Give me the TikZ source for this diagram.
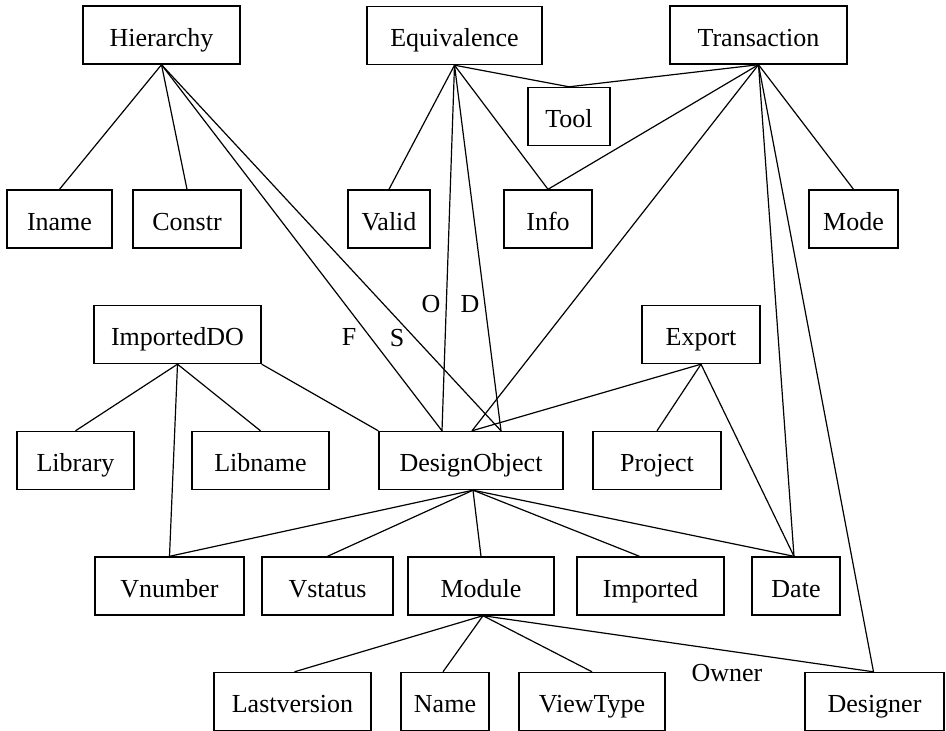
\documentclass[tikz,border=0pt]{standalone}
\usepackage{fontspec}
\setmainfont{Liberation Serif}
\begin{document}
\begin{tikzpicture}[x=1pt,y=-1pt,
  every node/.style={font=\fontsize{26}{29}\selectfont},
  ent/.style={draw, line width=1.4pt, inner sep=0pt, minimum height=58pt,
              text height=26pt, text depth=4pt},
  lbl/.style={inner sep=0pt},
  link/.style={line width=1.2pt}]
\useasboundingbox (0,0) rectangle (946,731);

% entity boxes
\node[ent, minimum width=157pt] (hier)   at (161.5,35)   {Hierarchy};
\node[ent, minimum width=175pt] (equiv)  at (454.5,35.5) {Equivalence};
\node[ent, minimum width=177pt] (trans)  at (758.5,35)   {Transaction};
\node[ent, minimum width=82pt]  (tool)   at (569,116.5)  {Tool};
\node[ent, minimum width=105pt] (iname)  at (59.5,219)   {Iname};
\node[ent, minimum width=108pt] (constr) at (187,219)    {Constr};
\node[ent, minimum width=82pt]  (valid)  at (389,219)    {Valid};
\node[ent, minimum width=88pt]  (info)   at (548,219)    {Info};
\node[ent, minimum width=89pt]  (mode)   at (853.5,219)  {Mode};
\node[ent, minimum width=167pt] (impdo)  at (177.5,334.5) {ImportedDO};
\node[ent, minimum width=118pt] (export) at (701,334.5)  {Export};
\node[ent, minimum width=117pt] (library) at (75.5,460.5) {Library};
\node[ent, minimum width=137pt] (libname) at (260.5,460.5) {Libname};
\node[ent, minimum width=184pt] (dobj)   at (471,460.5)  {DesignObject};
\node[ent, minimum width=128pt] (project) at (657,460.5) {Project};
\node[ent, minimum width=149pt] (vnumber) at (169.5,586) {Vnumber};
\node[ent, minimum width=131pt] (vstatus) at (327.5,586) {Vstatus};
\node[ent, minimum width=146pt] (module) at (481,586)    {Module};
\node[ent, minimum width=147pt] (imported) at (650.5,586) {Imported};
\node[ent, minimum width=88pt]  (date)   at (796,586)    {Date};
\node[ent, minimum width=157pt] (lastv)  at (292.5,701.5) {Lastversion};
\node[ent, minimum width=88pt]  (name)   at (445,701.5)  {Name};
\node[ent, minimum width=146pt] (viewtype) at (592,701.5) {ViewType};
\node[ent, minimum width=139pt] (designer) at (874.5,701.5) {Designer};

% role labels
\node[lbl] (lf) at (349,337) {F};
\node[lbl] (ls) at (397,338) {S};
\node[lbl] (lo) at (431,304) {O};
\node[lbl] (ld) at (470,304) {D};
\node[lbl] (lowner) at (727,673) {Owner};

% Hierarchy
\draw[link] (hier.south) -- (iname.north);
\draw[link] (hier.south) -- (constr.north);
\draw[link] (hier.south) -- ([xshift=-29pt]dobj.north);
\draw[link] (hier.south) -- ([xshift=30pt]dobj.north);

% Equivalence
\draw[link] (equiv.south) -- (valid.north);
\draw[link] (equiv.south) -- (tool.north);
\draw[link] (equiv.south) -- (info.north);
\draw[link] (equiv.south) -- ([xshift=-29pt]dobj.north);
\draw[link] (equiv.south) -- ([xshift=30pt]dobj.north);

% Transaction
\draw[link] (trans.south) -- (tool.north);
\draw[link] (trans.south) -- (info.north);
\draw[link] (trans.south) -- ([xshift=1pt]dobj.north);
\draw[link] (trans.south) -- (mode.north);
\draw[link] (trans.south) -- ([xshift=-2pt]date.north);
\draw[link] (trans.south) -- ([xshift=-1pt]designer.north);

% Export
\draw[link] (export.south) -- ([xshift=1pt]dobj.north);
\draw[link] (export.south) -- (project.north);
\draw[link] (export.south) -- ([xshift=-2pt]date.north);

% ImportedDO
\draw[link] (impdo.south) -- (library.north);
\draw[link] (impdo.south) -- (libname.north);
\draw[link] (impdo.south) -- (vnumber.north);
\draw[link] (impdo.south east) -- (dobj.north west);

% DesignObject
\draw[link] ([xshift=2pt]dobj.south) -- (vnumber.north);
\draw[link] ([xshift=2pt]dobj.south) -- (vstatus.north);
\draw[link] ([xshift=2pt]dobj.south) -- (module.north);
\draw[link] ([xshift=2pt]dobj.south) -- ([xshift=-11pt]imported.north);
\draw[link] ([xshift=2pt]dobj.south) -- ([xshift=-2pt]date.north);

% Module
\draw[link] ([xshift=2pt]module.south) -- ([xshift=2pt]lastv.north);
\draw[link] ([xshift=2pt]module.south) -- ([xshift=-2pt]name.north);
\draw[link] ([xshift=2pt]module.south) -- (viewtype.north);
\draw[link] ([xshift=2pt]module.south) -- ([xshift=-1pt]designer.north);
\end{tikzpicture}
\end{document}
